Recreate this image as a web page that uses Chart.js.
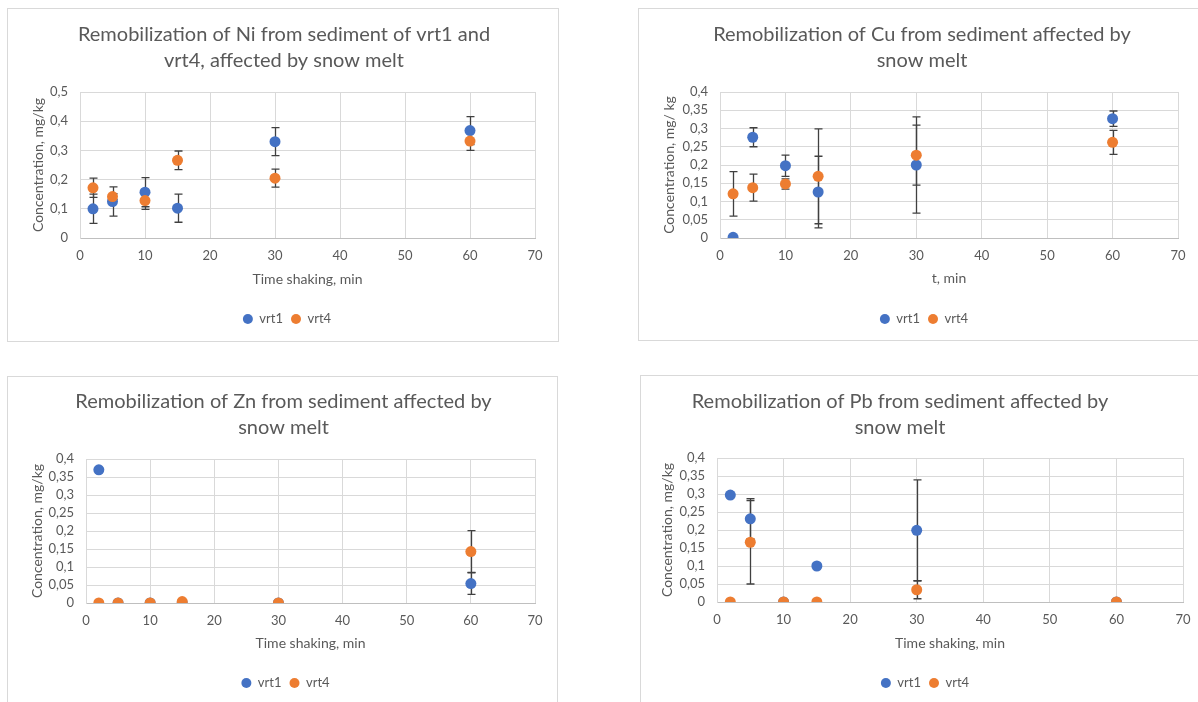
<!DOCTYPE html>
<html>
<head>
<meta charset="utf-8">
<script src="https://cdn.jsdelivr.net/npm/chart.js@4.4.0/dist/chart.umd.min.js"></script>
<style>
  html, body { margin: 0; padding: 0; background: #ffffff; width: 1198px; height: 702px; overflow: hidden; position: relative; }
  .panel { position: absolute; box-sizing: border-box; border: 1px solid #D9D9D9; pointer-events: none; }
  canvas { position: absolute; }
</style>
</head>
<body>
<script>
// ---------- DATA ----------
const times = [2, 5, 10, 15, 30, 60];
const seriesNames = ["vrt1", "vrt4"];

const niVrt1    = [0.100, 0.125, 0.157, 0.102, 0.330, 0.368];
const niVrt1Err = [0.050, 0.050, 0.050, 0.048, 0.048, 0.048];
const niVrt4    = [0.172, 0.142, 0.128, 0.266, 0.205, 0.332];
const niVrt4Err = [0.033, 0.010, 0.030, 0.032, 0.031, 0.032];

const cuVrt1    = [0.002, 0.276, 0.198, 0.126, 0.200, 0.327];
const cuVrt1Err = [0.000, 0.026, 0.029, 0.098, 0.132, 0.021];
const cuVrt4    = [0.121, 0.138, 0.148, 0.169, 0.227, 0.262];
const cuVrt4Err = [0.061, 0.037, 0.014, 0.130, 0.082, 0.033];

const znVrt1    = [0.370, 0.000, 0.000, 0.000, 0.000, 0.054];
const znVrt1Err = [0.000, 0.000, 0.000, 0.000, 0.000, 0.030];
const znVrt4    = [0.000, 0.000, 0.000, 0.004, 0.000, 0.143];
const znVrt4Err = [0.000, 0.000, 0.000, 0.000, 0.000, 0.058];

const pbVrt1    = [0.297, 0.231, 0.000, 0.100, 0.199, 0.000];
const pbVrt1Err = [0.000, 0.056, 0.000, 0.000, 0.140, 0.000];
const pbVrt4    = [0.000, 0.166, 0.000, 0.000, 0.034, 0.000];
const pbVrt4Err = [0.000, 0.116, 0.000, 0.000, 0.025, 0.000];

const titleNi = ["Remobilization of Ni from sediment of vrt1 and", "vrt4, affected by snow melt"];
const titleCu = ["Remobilization of Cu from sediment affected by", "snow melt"];
const titleZn = ["Remobilization of Zn from sediment affected by", "snow melt"];
const titlePb = ["Remobilization of Pb from sediment affected by", "snow melt"];

const xTitleTime = "Time shaking, min";
const xTitleT = "t, min";
const yTitleA = "Concentration, mg/kg";
const yTitleB = "Concentration, mg/ kg";

const xTicksMax = 70, xTicksStep = 10;

// ---------- STYLE ----------
const FONT = "Lato, 'Open Sans', 'Liberation Sans', sans-serif";
const TEXT = "#595959";
const GRID = "#D9D9D9";
const BLUE = "#4472C4";
const ORANGE = "#ED7D31";
const ERR = "#404040";
const TITLE_SIZE = 20, TITLE_LH = 26;
const AX_SIZE = 14, AX_LH = 16.8;
const TICK_SIZE = 13;
const LEG_SIZE = 13, LEG_PAD = 8;

const errorBars = {
  id: 'errorBars',
  beforeDatasetsDraw(chart) {
    const ctx = chart.ctx;
    const xs = chart.scales.x, ys = chart.scales.y;
    ctx.save();
    ctx.strokeStyle = ERR;
    ctx.lineWidth = 1.3;
    chart.data.datasets.forEach(ds => {
      const errs = ds.errors || [];
      ds.data.forEach((p, i) => {
        const e = errs[i];
        if (!e) return;
        const px = Math.round(xs.getPixelForValue(p.x)) + 0.5;
        const yt = ys.getPixelForValue(p.y + e);
        const yb = ys.getPixelForValue(Math.max(0, p.y - e));
        ctx.beginPath();
        ctx.moveTo(px, yt); ctx.lineTo(px, yb);
        ctx.moveTo(px - 4, yt); ctx.lineTo(px + 4, yt);
        ctx.moveTo(px - 4, yb); ctx.lineTo(px + 4, yb);
        ctx.stroke();
      });
    });
    ctx.restore();
  }
};

// centre title and legend on the whole panel (plus an optional offset)
const blockShift = {
  id: 'blockShift',
  afterLayout(chart, args, opts) {
    const w = chart.width;
    if (chart.titleBlock) {
      chart.titleBlock.left = (opts.titleDx || 0);
      chart.titleBlock.right = w + (opts.titleDx || 0);
    }
    if (chart.legend) {
      chart.legend.left = (opts.legendDx || 0);
      chart.legend.right = w + (opts.legendDx || 0);
    }
  }
};

function pts(xs, ys) { return xs.map((x, i) => ({ x: x, y: ys[i] })); }
function fmt(v) { return (Math.round(v * 100) / 100).toString().replace('.', ','); }

function makePanel(cfg) {
  const [rx, ry, rw, rh] = cfg.rect;
  const border = document.createElement('div');
  border.className = 'panel';
  Object.assign(border.style, { left: rx + 'px', top: ry + 'px', width: rw + 'px', height: rh + 'px' });
  const cv = document.createElement('canvas');
  cv.width = rw; cv.height = rh;
  Object.assign(cv.style, { left: rx + 'px', top: ry + 'px', width: rw + 'px', height: rh + 'px' });
  document.body.appendChild(cv);
  document.body.appendChild(border);

  const titlePadTop = cfg.titleY - TITLE_LH / 2;
  const titlePadBottom = cfg.plotT - (titlePadTop + 2 * TITLE_LH);
  const legendTop = cfg.legendY - (LEG_PAD + LEG_SIZE / 2);
  const layoutBottom = rh - (legendTop + LEG_SIZE + LEG_PAD + 10);
  const xAxisH = legendTop - cfg.plotB;
  const xTitlePad = legendTop - cfg.xTitleY - AX_LH / 2;
  const yTitlePad = cfg.yTitleX - AX_LH / 2;

  new Chart(cv, {
    type: 'scatter',
    data: {
      datasets: [
        { label: seriesNames[0], data: pts(times, cfg.s1), errors: cfg.e1, backgroundColor: BLUE, borderColor: BLUE,
          pointRadius: 5.5, pointHoverRadius: 5.5, borderWidth: 0, order: 1 },
        { label: seriesNames[1], data: pts(times, cfg.s2), errors: cfg.e2, backgroundColor: ORANGE, borderColor: ORANGE,
          pointRadius: 5.5, pointHoverRadius: 5.5, borderWidth: 0, order: 0 }
      ]
    },
    options: {
      responsive: false,
      animation: false,
      devicePixelRatio: 1,
      layout: { padding: { top: 0, left: 0, right: rw - cfg.plotR, bottom: layoutBottom } },
      plugins: {
        tooltip: { enabled: false },
        blockShift: { titleDx: cfg.titleDx || 0, legendDx: cfg.legendDx || 0 },
        title: {
          display: true, text: cfg.title, color: TEXT,
          font: { family: FONT, size: TITLE_SIZE, weight: 'normal', lineHeight: TITLE_LH / TITLE_SIZE },
          padding: { top: titlePadTop, bottom: titlePadBottom }
        },
        legend: {
          display: true, position: 'bottom',
          labels: {
            usePointStyle: true, pointStyle: 'circle', pointStyleWidth: 10, boxHeight: 7,
            padding: LEG_PAD, color: TEXT, font: { family: FONT, size: LEG_SIZE },
            sort: (a, b) => a.datasetIndex - b.datasetIndex
          }
        }
      },
      scales: {
        x: {
          type: 'linear', min: 0, max: xTicksMax,
          afterFit: s => { s.height = xAxisH; },
          ticks: { stepSize: xTicksStep, autoSkip: false, color: TEXT, padding: 10, font: { family: FONT, size: TICK_SIZE }, callback: v => fmt(v) },
          grid: { color: GRID, lineWidth: 1, drawTicks: false },
          border: { color: "#BFBFBF", width: 1 },
          title: { display: true, text: cfg.xTitle, color: TEXT, font: { family: FONT, size: AX_SIZE, lineHeight: 1.2 },
                   padding: { top: 0, bottom: xTitlePad } }
        },
        y: {
          type: 'linear', min: 0, max: cfg.yMax,
          afterFit: s => { s.width = cfg.plotL; },
          ticks: { stepSize: cfg.yStep, autoSkip: false, color: TEXT, padding: 12, font: { family: FONT, size: TICK_SIZE }, callback: v => fmt(v) },
          grid: { color: GRID, lineWidth: 1, drawTicks: false },
          border: { color: GRID, width: 1 },
          title: { display: true, text: cfg.yTitle, color: TEXT, font: { family: FONT, size: AX_SIZE, lineHeight: 1.2 },
                   padding: { top: yTitlePad, bottom: 0 } }
        }
      }
    },
    plugins: [errorBars, blockShift]
  });
}

makePanel({ rect: [7, 8, 552, 334], plotL: 73, plotR: 528, plotT: 84, plotB: 230,
  titleY: 27, legendY: 311, xTitleY: 271, yTitleX: 31, titleDx: 1, legendDx: 4,
  title: titleNi, xTitle: xTitleTime, yTitle: yTitleA, yMax: 0.5, yStep: 0.1,
  s1: niVrt1, e1: niVrt1Err, s2: niVrt4, e2: niVrt4Err });

makePanel({ rect: [638, 8, 570, 333], plotL: 82, plotR: 540, plotT: 84, plotB: 230,
  titleY: 27, legendY: 311, xTitleY: 270, yTitleX: 31, titleDx: -1, legendDx: 1,
  title: titleCu, xTitle: xTitleT, yTitle: yTitleB, yMax: 0.4, yStep: 0.05,
  s1: cuVrt1, e1: cuVrt1Err, s2: cuVrt4, e2: cuVrt4Err });

makePanel({ rect: [7, 376, 551, 340], plotL: 79, plotR: 528, plotT: 83, plotB: 227,
  titleY: 26, legendY: 307, xTitleY: 267, yTitleX: 30, titleDx: 1, legendDx: 3,
  title: titleZn, xTitle: xTitleTime, yTitle: yTitleA, yMax: 0.4, yStep: 0.05,
  s1: znVrt1, e1: znVrt1Err, s2: znVrt4, e2: znVrt4Err });

makePanel({ rect: [640, 375, 570, 341], plotL: 77, plotR: 543, plotT: 83, plotB: 227,
  titleY: 27, legendY: 308, xTitleY: 268, yTitleX: 27, titleDx: -25, legendDx: 0,
  title: titlePb, xTitle: xTitleTime, yTitle: yTitleA, yMax: 0.4, yStep: 0.05,
  s1: pbVrt1, e1: pbVrt1Err, s2: pbVrt4, e2: pbVrt4Err });
</script>
</body>
</html>
